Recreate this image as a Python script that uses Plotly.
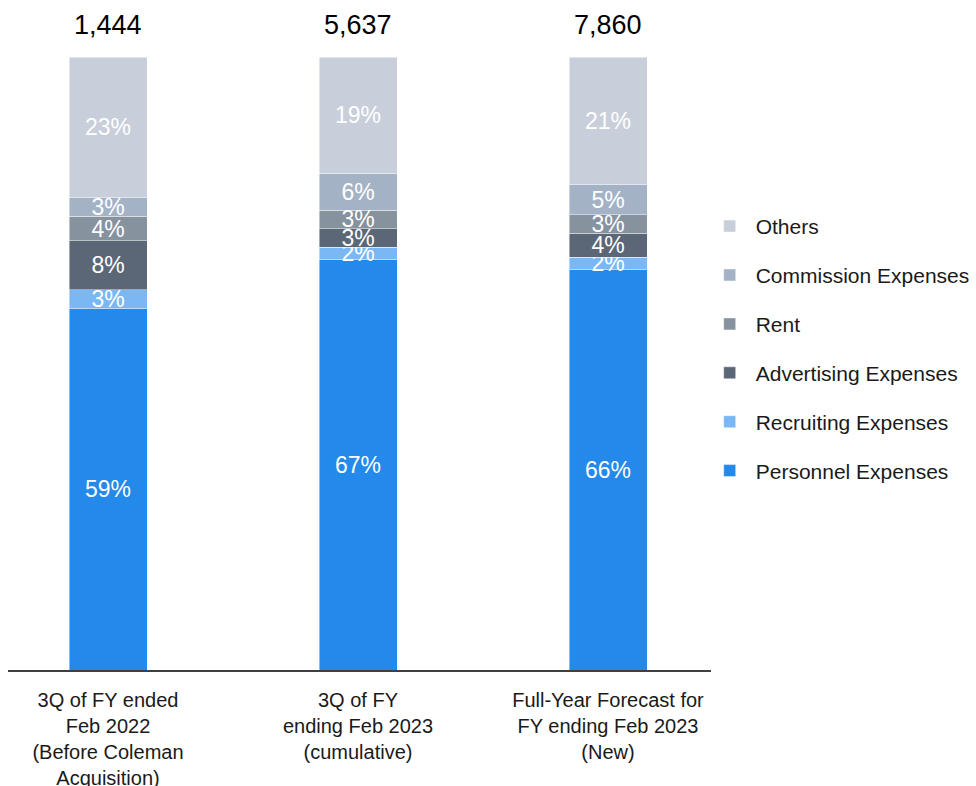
import plotly.graph_objects as go

# Categories (x axis) and total SG&A per period
categories = [
    "3Q of FY ended<br>Feb 2022<br>(Before Coleman<br>Acquisition)",
    "3Q of FY<br>ending Feb 2023<br>(cumulative)",
    "Full-Year Forecast for<br>FY ending Feb 2023<br>(New)",
]
totals = [1444, 5637, 7860]

# Share of each expense item (%), bottom to top of the stack
personnel = [59, 67, 66]
recruiting = [3, 2, 2]
advertising = [8, 3, 4]
rent = [4, 3, 3]
commission = [3, 6, 5]
others = [23, 19, 21]

series = [
    ("Personnel Expenses", personnel, "#2389EB"),
    ("Recruiting Expenses", recruiting, "#7AB8F5"),
    ("Advertising Expenses", advertising, "#5B6777"),
    ("Rent", rent, "#87929F"),
    ("Commission Expenses", commission, "#A4B2C6"),
    ("Others", others, "#C8CFDB"),
]

FONT = "Liberation Sans, Arial, sans-serif"

fig = go.Figure()
n = len(series)
for k, (name, vals, color) in enumerate(series):
    fig.add_trace(go.Bar(
        name=name,
        legendgroup=name,
        legendrank=n - k,  # top of the stack listed first
        x=list(range(len(categories))),
        y=vals,
        width=0.312,
        marker=dict(color=color, line=dict(color="rgba(255,255,255,0.55)", width=0.8)),
        text=[f"{v}%" for v in vals],
        textposition="inside",
        insidetextanchor="middle",
        textangle=0,
        constraintext="none",
        textfont=dict(family=FONT, size=23, color="white"),
        hoverinfo="skip",
    ))

# Totals printed above each bar
for i, t in enumerate(totals):
    fig.add_annotation(
        x=i, y=100, xref="x", yref="y",
        text=f"{t:,}", showarrow=False,
        yanchor="middle", yshift=32,
        font=dict(family=FONT, size=27, color="black"),
    )

fig.update_layout(
    width=976, height=786,
    margin=dict(l=8, r=265, t=57, b=116, autoexpand=False),
    paper_bgcolor="white", plot_bgcolor="white",
    barmode="stack", barnorm="percent",
    uniformtext=dict(mode="show", minsize=23),
    showlegend=True,
    legend=dict(
        xref="container", yref="container",
        x=0.721, y=0.738, xanchor="left", yanchor="top",
        traceorder="grouped", tracegroupgap=18.6,
        font=dict(family=FONT, size=21, color="#1a1a1a"),
        itemwidth=42,
        bgcolor="rgba(0,0,0,0)",
    ),
    xaxis=dict(
        range=[-0.4, 2.412],
        tickmode="array", tickvals=list(range(len(categories))), ticktext=categories,
        showline=True, linecolor="#404040", linewidth=2,
        showgrid=False, zeroline=False, ticks="",
        ticklabelstandoff=11,
        tickfont=dict(family=FONT, size=20, color="#1a1a1a"),
    ),
    yaxis=dict(range=[0, 100], visible=False, showgrid=False, zeroline=False),
)

fig.write_html("out.html")
